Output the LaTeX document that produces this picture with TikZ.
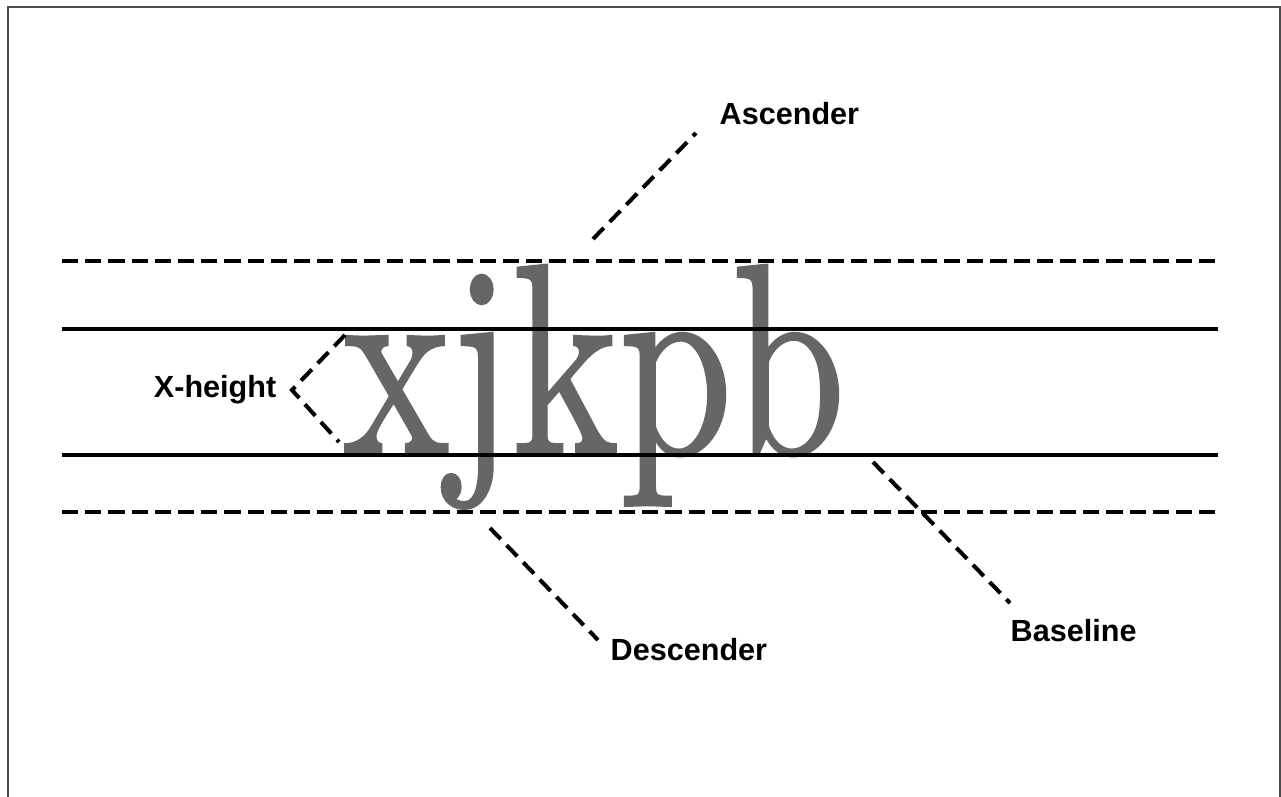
\documentclass[tikz,border=0pt]{standalone}
\usepackage{fontspec}
\newfontfamily\labelfont{Liberation Sans}
\newfontface\samplefont{lmroman10-regular}[Extension=.otf, FakeBold=1.1]
\usepackage{tikz}
\tikzstyle{guide_dashed} = [line width=1.15pt, dash pattern=on 4.6pt off 2pt]
\tikzstyle{guide_solid} = [line width=1.15pt]
\tikzstyle{leader} = [line width=1.15pt, dash pattern=on 4.4pt off 2.4pt]
\tikzstyle{label_text} = [inner sep=0pt, font=\labelfont\bfseries\fontsize{8.7}{10}\selectfont]
\tikzstyle{sample_text} = [inner sep=0pt, text=black!60, font=\samplefont\fontsize{77}{77}\selectfont]

\begin{document}
\begin{tikzpicture}[x=0.01cm, y=-0.01cm]
\useasboundingbox (0,0) rectangle (1281,796);
\draw[line width=0.8pt, black!70] (8,810)--(8,7)--(1280,7)--(1280,810);

\node (S) at (342,453) [sample_text, anchor=base west] {\scalebox{0.75}[1]{xjkpb}};

\coordinate (L1) at (62,261);   \coordinate (R1) at (1218,261);
\coordinate (L2) at (62,329);   \coordinate (R2) at (1218,329);
\coordinate (L3) at (62,455);   \coordinate (R3) at (1218,455);
\coordinate (L4) at (62,512);   \coordinate (R4) at (1218,512);
\draw[guide_dashed] (L1)--(R1);
\draw[guide_solid] (L2)--(R2);
\draw[guide_solid] (L3)--(R3);
\draw[guide_dashed] (L4)--(R4);

\node (asc) at (719,114) [label_text, anchor=west] {Ascender};
\node (xh) at (277,390) [label_text, anchor=east] {X-height};
\node (desc) at (610,650) [label_text, anchor=west] {Descender};
\node (base) at (1010,631) [label_text, anchor=west] {Baseline};

\coordinate (asc_a) at (593,239);   \coordinate (asc_b) at (696,133);
\coordinate (xh_a) at (345,335);    \coordinate (xh_b) at (292,390);  \coordinate (xh_c) at (339,442);
\coordinate (desc_a) at (490,528);  \coordinate (desc_b) at (598,640);
\coordinate (base_a) at (873,462);  \coordinate (base_b) at (1010,603);
\draw[leader] (asc_a)--(asc_b);
\draw[leader] (xh_a)--(xh_b)--(xh_c);
\draw[leader] (desc_a)--(desc_b);
\draw[leader] (base_a)--(base_b);
\end{tikzpicture}
\end{document}
